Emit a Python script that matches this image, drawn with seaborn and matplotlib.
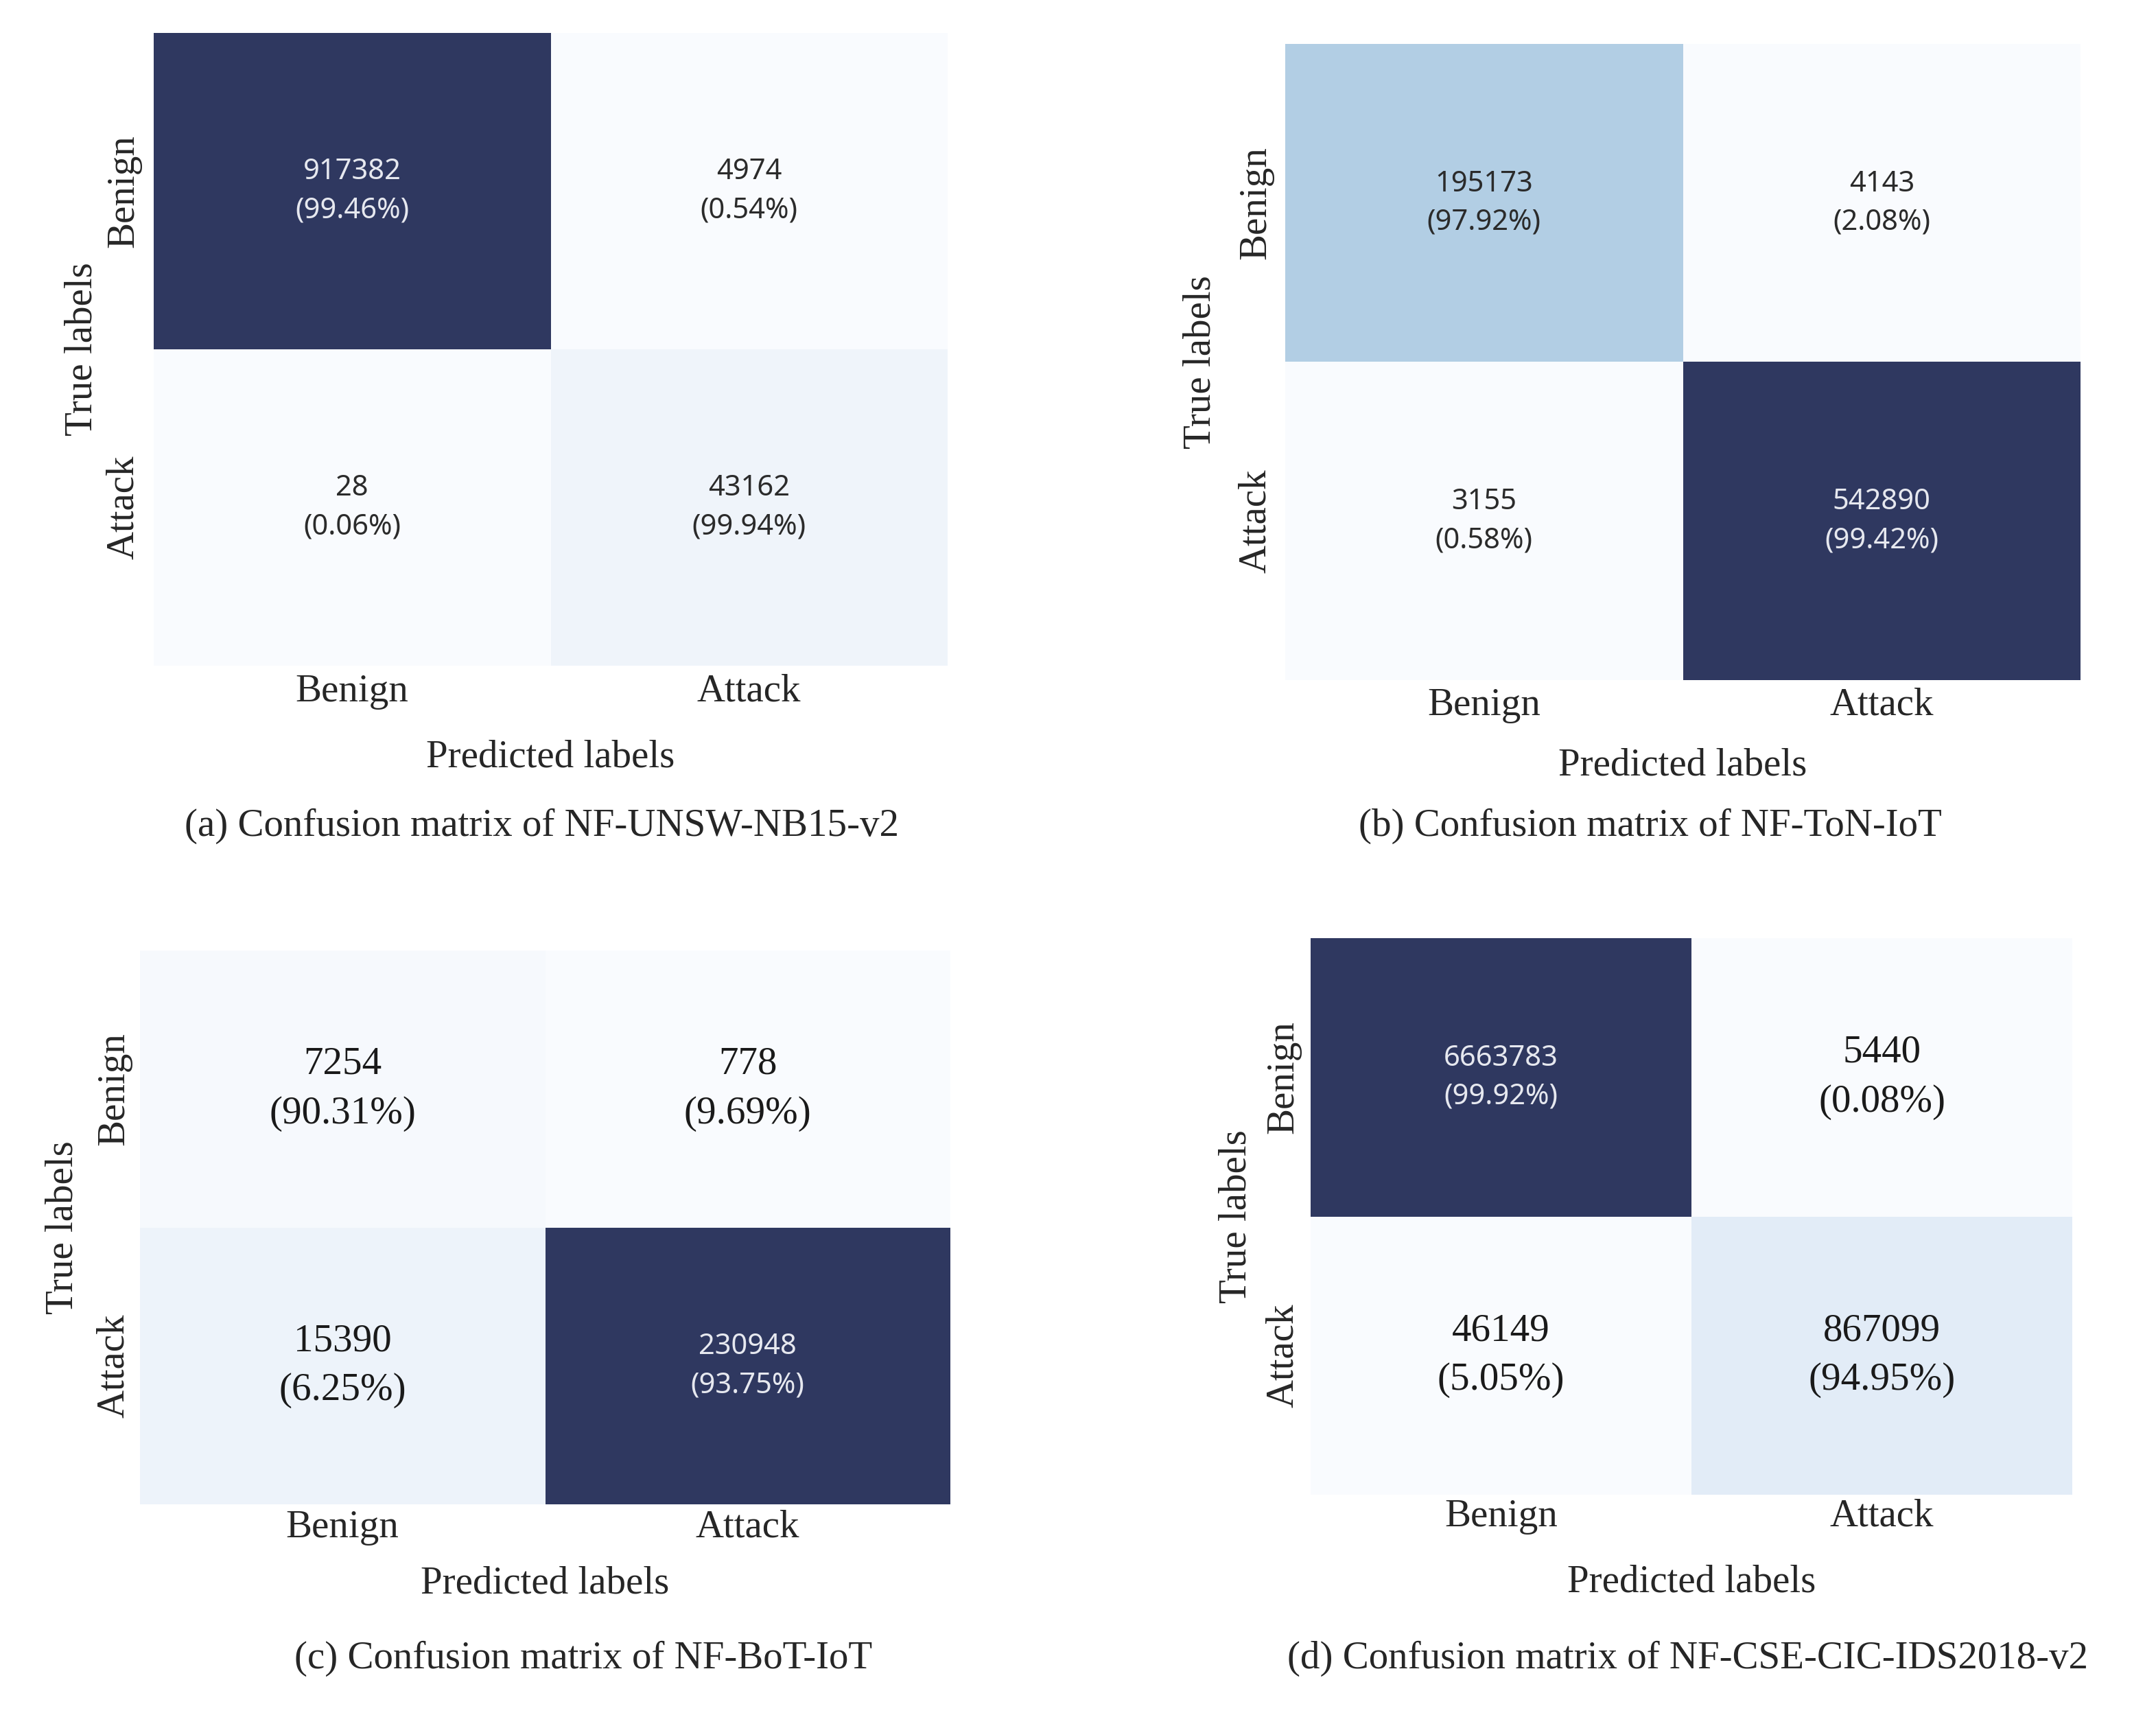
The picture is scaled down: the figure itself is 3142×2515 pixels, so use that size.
import numpy as np
import matplotlib
matplotlib.use('Agg')
import matplotlib.pyplot as plt
import seaborn as sns
from matplotlib.colors import LinearSegmentedColormap

# ---------------------------------------------------------
# Data
# ---------------------------------------------------------
class_labels = ['Benign', 'Attack']

cm_unsw = [[917382, 4974], [28, 43162]]
pct_unsw = [[99.46, 0.54], [0.06, 99.94]]

cm_ton = [[195173, 4143], [3155, 542890]]
pct_ton = [[97.92, 2.08], [0.58, 99.42]]

cm_bot = [[7254, 778], [15390, 230948]]
pct_bot = [[90.31, 9.69], [6.25, 93.75]]

cm_cse = [[6663783, 5440], [46149, 867099]]
pct_cse = [[99.92, 0.08], [5.05, 94.95]]

captions = [
    '(a) Confusion matrix of NF-UNSW-NB15-v2',
    '(b) Confusion matrix of NF-ToN-IoT',
    '(c) Confusion matrix of NF-BoT-IoT',
    '(d) Confusion matrix of NF-CSE-CIC-IDS2018-v2',
]

# ---------------------------------------------------------
# Styling / layout
# ---------------------------------------------------------
W, H = 3142, 2515
sns.set_theme(style='white')
plt.rcParams['font.family'] = ['Liberation Serif', 'DejaVu Serif']

cmap = LinearSegmentedColormap.from_list('cm_blues', [
    (0.0, '#f9fbfe'),
    (0.035, '#f6f9fd'),
    (0.047, '#eff4fa'),
    (0.067, '#edf3fa'),
    (0.13, '#e2ecf7'),
    (0.36, '#b2cee4'),
    (1.0, '#2f3860'),
])

# (left, top, right, bottom) of heatmap in px, offsets in px, caption centre
panels = [
    dict(box=(224, 48, 1381, 970), xt=38, xl=134, yt=44, yl=104, cap=(790, 1204), serif_light=False),
    dict(box=(1873, 64, 3032, 991), xt=37, xl=125, yt=43, yl=123, cap=(2405, 1204), serif_light=False),
    dict(box=(204, 1385, 1385, 2192), xt=34, xl=115, yt=38, yl=112, cap=(850, 2417), serif_light=True),
    dict(box=(1910, 1367, 3020, 2178), xt=32, xl=127, yt=40, yl=108, cap=(2459, 2417), serif_light=True),
]
matrices = [cm_unsw, cm_ton, cm_bot, cm_cse]
percents = [pct_unsw, pct_ton, pct_bot, pct_cse]

LABEL_SIZE = 41
SANS_SIZE = 30
SERIF_SIZE = 41

fig = plt.figure(figsize=(W / 100, H / 100), dpi=100)
fig.patch.set_facecolor('white')

for cm, pct, cap, p in zip(matrices, percents, captions, panels):
    l, t, r, b = p['box']
    ax = fig.add_axes([l / W, 1 - b / H, (r - l) / W, (b - t) / H])
    data = np.array(cm)
    annot = np.array([[f'{data[i, j]}\n({pct[i][j]:.2f}%)' for j in range(2)] for i in range(2)])

    sns.heatmap(data, annot=annot, fmt='', cmap=cmap, vmin=0, vmax=data.max(),
                cbar=False, square=False, ax=ax,
                xticklabels=class_labels, yticklabels=class_labels,
                annot_kws={'fontsize': SANS_SIZE, 'family': 'Noto Sans', 'linespacing': 1.45})

    # light cells of (c)/(d) use the serif face
    for txt, val in zip(ax.texts, data.flat):
        if p['serif_light'] and val < data.max():
            txt.set_fontfamily('Liberation Serif')
            txt.set_fontsize(SERIF_SIZE)
            txt.set_linespacing(1.5)
            txt.set_color('#1a1a1a')
        elif val < data.max() * 0.5:
            txt.set_color('#2b2b2b')
        else:
            txt.set_color('#e6e8ef')

    ax.tick_params(length=0)
    ax.tick_params(axis='x', pad=p['xt'] * 0.72)
    ax.tick_params(axis='y', pad=p['yt'] * 0.72)
    ax.set_xticklabels(class_labels, fontsize=LABEL_SIZE, va='center')
    ax.set_yticklabels(class_labels, fontsize=LABEL_SIZE, rotation=90, va='center', ha='center')

    ax.set_xlabel('Predicted labels', fontsize=LABEL_SIZE, va='center')
    ax.xaxis.set_label_coords(0.5, -p['xl'] / (b - t))
    ax.set_ylabel('True labels', fontsize=LABEL_SIZE, va='center')
    ax.yaxis.set_label_coords(-p['yl'] / (r - l), 0.5)

    fig.text(p['cap'][0] / W, 1 - p['cap'][1] / H, cap, fontsize=LABEL_SIZE,
             ha='center', va='center')

fig.savefig('out.png', dpi=100, facecolor='white')
